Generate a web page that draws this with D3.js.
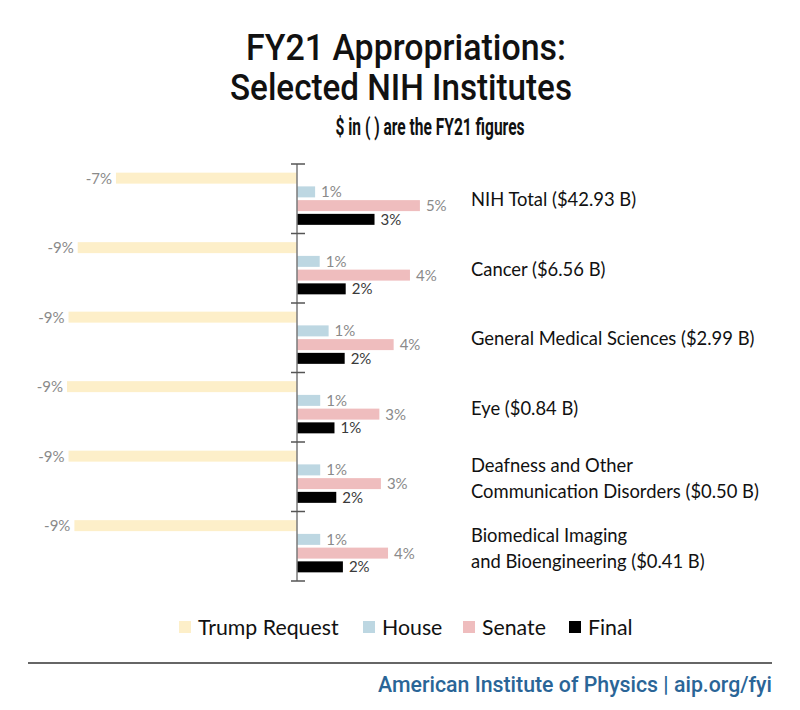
<!DOCTYPE html>
<html><head><meta charset="utf-8">
<script src="https://cdn.jsdelivr.net/npm/d3@7"></script>
<style>
html,body{margin:0;padding:0;background:#fff;}
svg{display:block;}
</style></head>
<body>
<script>
const categories = [
  ["NIH Total ($42.93 B)"],
  ["Cancer ($6.56 B)"],
  ["General Medical Sciences ($2.99 B)"],
  ["Eye ($0.84 B)"],
  ["Deafness and Other", "Communication Disorders ($0.50 B)"],
  ["Biomedical Imaging", "and Bioengineering ($0.41 B)"]
];
const seriesNames = ["Trump Request", "House", "Senate", "Final"];
const trumpRequest = [-7.1, -8.6, -8.96, -9.02, -8.96, -8.73];
const house        = [0.71, 0.89, 1.24, 0.91, 0.91, 0.91];
const senate       = [4.82, 4.43, 3.79, 3.23, 3.29, 3.57];
const finalVals    = [3.04, 1.91, 1.87, 1.47, 1.54, 1.80];
const seriesValues = [trumpRequest, house, senate, finalVals];
const seriesColors = ["#fdefc9", "#bdd7e2", "#efbdbe", "#000000"];
const labelColors  = ["#8a8a8a", "#8a8a8a", "#8a8a8a", "#3a3a3a"];
const titleLines = ["FY21 Appropriations:", "Selected NIH Institutes"];
const subtitle = "$ in ( ) are the FY21 figures";
const footer = "American Institute of Physics | aip.org/fyi";

const W = 800, H = 710;
const svg = d3.select("body").append("svg").attr("width", W).attr("height", H);

const x = d3.scaleLinear().domain([-10, 6]).range([42, 450]);
const catIdx = d3.range(categories.length);
const y = d3.scaleBand().domain(catIdx).range([164, 581]).padding(0);
const y1 = d3.scaleBand().domain(seriesNames).range([0, y.bandwidth()])
  .paddingInner(0.2).paddingOuter(0.63);

// Titles
const condensed = "'Liberation Sans Narrow','Roboto','Liberation Sans',sans-serif";
svg.append("text").attr("x", 406).attr("y", 60).attr("text-anchor", "middle")
  .attr("font-family", condensed).attr("font-size", 37).attr("font-weight", 500)
  .attr("textLength", 320).attr("lengthAdjust", "spacingAndGlyphs")
  .attr("fill", "#111").text(titleLines[0]);
svg.append("text").attr("x", 401).attr("y", 100).attr("text-anchor", "middle")
  .attr("font-family", condensed).attr("font-size", 37).attr("font-weight", 500)
  .attr("textLength", 342).attr("lengthAdjust", "spacingAndGlyphs")
  .attr("fill", "#111").text(titleLines[1]);
svg.append("text").attr("x", 430).attr("y", 135).attr("text-anchor", "middle")
  .attr("font-family", condensed).attr("font-size", 23).attr("font-weight", 700)
  .attr("textLength", 189).attr("lengthAdjust", "spacingAndGlyphs")
  .attr("fill", "#111").text(subtitle);

// Bars
const g = svg.append("g");
seriesNames.forEach((s, si) => {
  const vals = seriesValues[si];
  g.selectAll(null).data(catIdx).enter().append("rect")
    .attr("x", i => x(Math.min(0, vals[i])))
    .attr("y", i => y(i) + y1(s))
    .attr("width", i => Math.abs(x(vals[i]) - x(0)))
    .attr("height", y1.bandwidth())
    .attr("fill", seriesColors[si]);
  g.selectAll(null).data(catIdx).enter().append("text")
    .attr("x", i => vals[i] < 0 ? x(vals[i]) - 4 : x(vals[i]) + 6)
    .attr("y", i => y(i) + y1(s) + y1.bandwidth() / 2)
    .attr("dy", "0.36em")
    .attr("text-anchor", i => vals[i] < 0 ? "end" : "start")
    .attr("font-family", "Lato, 'Open Sans', sans-serif")
    .attr("font-size", 15)
    .attr("fill", labelColors[si])
    .text(i => Math.round(vals[i]) + "%");
});

// Axis
const x0 = x(0);
svg.append("line").attr("x1", x0).attr("x2", x0)
  .attr("y1", y.range()[0]).attr("y2", y.range()[1])
  .attr("stroke", "#7a7a7a").attr("stroke-width", 1.5);
const bounds = catIdx.map(i => y(i)).concat([y.range()[1]]);
svg.selectAll(null).data(bounds).enter().append("line")
  .attr("x1", x0 - 6).attr("x2", x0 + 8)
  .attr("y1", d => d).attr("y2", d => d)
  .attr("stroke", "#555").attr("stroke-width", 1.5);

// Category labels
const lab = svg.append("g");
categories.forEach((lines, i) => {
  const cy = y(i) + y.bandwidth() / 2 + (lines.length > 1 ? 2 : 1);
  const lh = 26;
  lines.forEach((t, li) => {
    lab.append("text")
      .attr("x", 471)
      .attr("y", cy + (li - (lines.length - 1) / 2) * lh)
      .attr("dy", "0.36em")
      .attr("font-family", "Lato, 'Open Sans', sans-serif")
      .attr("font-size", 18.4)
      .attr("fill", "#111")
      .text(t);
  });
});

// Legend
const legendX = [179, 363, 463, 569];
const leg = svg.append("g");
seriesNames.forEach((s, si) => {
  leg.append("rect").attr("x", legendX[si]).attr("y", 621).attr("width", 12).attr("height", 12)
    .attr("fill", seriesColors[si]);
  leg.append("text").attr("x", legendX[si] + 19).attr("y", 627).attr("dy", "0.36em")
    .attr("font-family", "Lato, 'Open Sans', sans-serif").attr("font-size", 21.3)
    .attr("fill", "#111").text(s);
});

// Footer
svg.append("line").attr("x1", 28).attr("x2", 772).attr("y1", 663).attr("y2", 663)
  .attr("stroke", "#333").attr("stroke-width", 1.5);
svg.append("text").attr("x", 772).attr("y", 692).attr("text-anchor", "end")
  .attr("font-family", condensed).attr("font-size", 22).attr("font-weight", 500)
  .attr("textLength", 394).attr("lengthAdjust", "spacingAndGlyphs")
  .attr("fill", "#2a6597").text(footer);
</script>
</body></html>
